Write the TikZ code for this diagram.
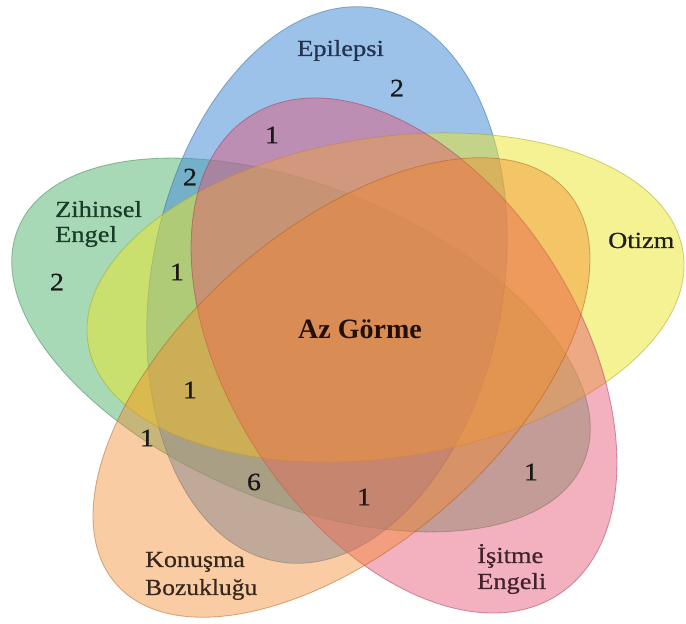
\documentclass[tikz,border=0pt]{standalone}
\usepackage{fontspec}
\setmainfont{Liberation Serif}
\newfontfamily\labfont[FakeBold=0.6]{Liberation Serif}
\definecolor{cgreen}{RGB}{80,180,110}
\definecolor{cblue}{RGB}{75,145,215}
\definecolor{cpink}{RGB}{230,80,115}
\definecolor{cyellow}{RGB}{235,230,40}
\definecolor{corange}{RGB}{243,135,40}
\definecolor{tblue}{RGB}{35,50,80}
\definecolor{tgreen}{RGB}{25,60,40}
\definecolor{tdark}{RGB}{30,30,20}
\definecolor{tbrown}{RGB}{55,40,30}
\definecolor{tred}{RGB}{65,35,45}
\definecolor{taz}{RGB}{35,15,5}
\definecolor{numcol}{RGB}{25,25,25}
\begin{document}
\begin{tikzpicture}[x=1pt,y=1pt,
  setshape/.style={line width=0.8pt, draw opacity=0.5},
  lab/.style={inner sep=0pt, anchor=base west, font=\labfont\fontsize{23}{26}\selectfont},
  num/.style={inner sep=0pt, anchor=center, font=\labfont\fontsize{25}{25}\selectfont, text=numcol}]
\useasboundingbox (0,0) rectangle (686,624);
\fill[white] (0,0) rectangle (686,624);
% sets
\path[setshape, fill=cgreen, fill opacity=0.5, draw=cgreen!70!black,
  rotate around={-22.4:(301,279)}] (301,279) ellipse [x radius=306pt, y radius=158pt];
\path[setshape, fill=cblue, fill opacity=0.55, draw=cblue!70!black,
  rotate around={79.8:(327,339)}] (327,339) ellipse [x radius=281pt, y radius=176pt];
\path[setshape, fill=cyellow, fill opacity=0.5, draw=cyellow!70!black,
  rotate around={8.7:(385.5,326.5)}] (385.5,326.5) ellipse [x radius=301pt, y radius=160pt];
\path[setshape, fill=cpink, fill opacity=0.45, draw=cpink!70!black,
  rotate around={-57.3:(404,268.5)}] (404,268.5) ellipse [x radius=284.6pt, y radius=175.1pt];
\path[setshape, fill=corange, fill opacity=0.42, draw=corange!70!black,
  rotate around={41:(341.5,236.5)}] (341.5,236.5) ellipse [x radius=299pt, y radius=158.4pt];
% labels
\node[lab, text=tblue] (epi) at (297,568) {\scalebox{1.15}[1]{Epilepsi}};
\node[lab, text=tgreen] (zih1) at (55,407) {\scalebox{1.15}[1]{Zihinsel}};
\node[lab, text=tgreen] (zih2) at (55,382) {\scalebox{1.15}[1]{Engel}};
\node[lab, text=tdark] (oti) at (608,376) {\scalebox{1.15}[1]{Otizm}};
\node[lab, text=tbrown] (kon1) at (145,57) {\scalebox{1.13}[1]{Konuşma}};
\node[lab, text=tbrown] (kon2) at (145,29) {\scalebox{1.11}[1]{Bozukluğu}};
\node[lab, text=tred] (isi1) at (477,61) {\scalebox{1.15}[1]{İşitme}};
\node[lab, text=tred] (isi2) at (477,35) {\scalebox{1.15}[1]{Engeli}};
\node[inner sep=0pt, anchor=base west, text=taz, font=\bfseries\fontsize{28}{28}\selectfont] (az) at (298,285) {Az Görme};
% counts
\node[num] (n1) at (397,536) {\scalebox{1.12}[1]{2}};
\node[num] (n2) at (272,489) {\scalebox{1.12}[1]{1}};
\node[num] (n3) at (190,447) {\scalebox{1.12}[1]{2}};
\node[num] (n4) at (57,342) {\scalebox{1.12}[1]{2}};
\node[num] (n5) at (177,352) {\scalebox{1.12}[1]{1}};
\node[num] (n6) at (190,234) {\scalebox{1.12}[1]{1}};
\node[num] (n7) at (147,186) {\scalebox{1.12}[1]{1}};
\node[num] (n8) at (254,142) {\scalebox{1.12}[1]{6}};
\node[num] (n9) at (364,127) {\scalebox{1.12}[1]{1}};
\node[num] (n10) at (531,152) {\scalebox{1.12}[1]{1}};
\end{tikzpicture}
\end{document}
